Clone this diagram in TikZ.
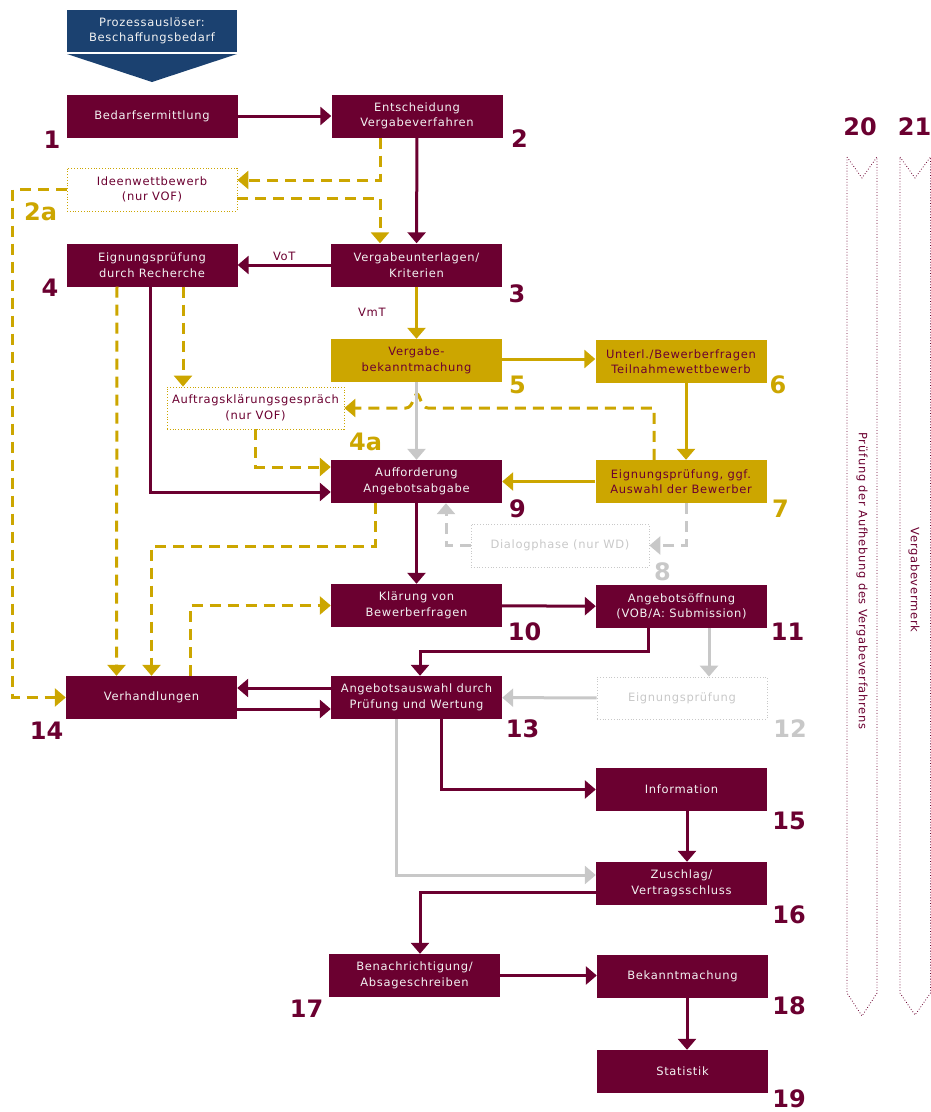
\documentclass[tikz,border=0pt]{standalone}
\usepackage{fontspec}
\setmainfont{DejaVu Sans}
\newfontfamily\boxfont{DejaVu Sans}[LetterSpace=6]
\usetikzlibrary{arrows.meta}

\definecolor{weinrot}{HTML}{6B0030}
\definecolor{ocker}{HTML}{CCA600}
\definecolor{hellgrau}{HTML}{C8C8C8}
\definecolor{nachtblau}{HTML}{1B4170}
\definecolor{textweiss}{HTML}{F2F2F2}

\tikzset{
  schritt/.style={fill=weinrot, text=textweiss, minimum width=171pt, minimum height=43pt,
    inner sep=0pt, align=center, font=\boxfont\fontsize{11.5}{15.5}\selectfont},
  teilnahme/.style={schritt, fill=ocker, text=weinrot},
  option/.style={schritt, fill=none, draw=ocker, dotted, line width=0.8pt, text=weinrot},
  optgrau/.style={option, draw=hellgrau, text=hellgrau},
  nummer/.style={font=\bfseries\fontsize{24}{24}\selectfont, text=weinrot, inner sep=0pt},
  goldnummer/.style={nummer, text=ocker},
  graunummer/.style={nummer, text=hellgrau},
  kuerzel/.style={font=\boxfont\fontsize{11.5}{14}\selectfont, text=weinrot},
  spitze/.style={-{Triangle[length=11pt,width=18pt]}},
  pfeil/.style={draw=weinrot, line width=3pt, spitze},
  goldpfeil/.style={draw=ocker, line width=3pt, spitze},
  goldstrich/.style={goldpfeil, dash pattern=on 11pt off 7pt},
  graupfeil/.style={draw=hellgrau, line width=3pt, spitze},
  graustrich/.style={graupfeil, dash pattern=on 11pt off 7pt},
  band/.style={draw=weinrot, dotted, line width=0.8pt}
}

\begin{document}
\begin{tikzpicture}[x=1pt, y=-1pt]
    \useasboundingbox (0,0) rectangle (931,1112);

    % Prozessausloeser
    \node[schritt, fill=nachtblau, minimum width=170pt, minimum height=42pt] (ausloeser) at (152,31) {Prozessauslöser:\\Beschaffungsbedarf};
    \fill[nachtblau] (67,54) -- (237,54) -- (152,82) -- cycle;

    % Schritte
    \node[schritt] (b1) at (152,116) {Bedarfsermittlung};
    \node[schritt] (b2) at (417,116) {Entscheidung\\Vergabeverfahren};
    \node[option, minimum width=170pt] (b2a) at (152,189.5) {Ideenwettbewerb\\(nur VOF)};
    \node[schritt] (b3) at (416.5,265) {Vergabeunterlagen/\\Kriterien};
    \node[schritt] (b4) at (152,265) {Eignungsprüfung\\durch Recherche};
    \node[teilnahme] (b5) at (416.5,360.5) {Vergabe-\\bekanntmachung};
    \node[teilnahme] (b6) at (681,361.5) {Unterl./Bewerberfragen\\Teilnahmewettbewerb};
    \node[option, minimum width=177pt, minimum height=42pt] (b4a) at (255.5,408) {Auftragsklärungsgespräch\\(nur VOF)};
    \node[teilnahme] (b7) at (681,481.5) {Eignungsprüfung, ggf.\\Auswahl der Bewerber};
    \node[schritt] (b9) at (416.5,481.5) {Aufforderung\\Angebotsabgabe};
    \node[optgrau, minimum width=178pt] (b8) at (560,545.5) {Dialogphase (nur WD)};
    \node[schritt] (b10) at (416.5,605.5) {Klärung von\\Bewerberfragen};
    \node[schritt] (b11) at (681.5,606.5) {Angebotsöffnung\\(VOB/A: Submission)};
    \node[optgrau, minimum width=170pt, minimum height=42pt] (b12) at (682,698) {Eignungsprüfung};
    \node[schritt] (b13) at (416.5,697.5) {Angebotsauswahl durch\\Prüfung und Wertung};
    \node[schritt] (b14) at (151.5,697.5) {Verhandlungen};
    \node[schritt] (b15) at (681.5,789.5) {Information};
    \node[schritt] (b16) at (681.5,883.5) {Zuschlag/\\Vertragsschluss};
    \node[schritt] (b17) at (414.5,975.5) {Benachrichtigung/\\Absageschreiben};
    \node[schritt] (b18) at (682.5,976.5) {Bekanntmachung};
    \node[schritt] (b19) at (682.5,1071.5) {Statistik};

    % Nummern
    \node[nummer] (n1) at (52,140) {1};
    \node[nummer] (n2) at (519.5,139) {2};
    \node[goldnummer] (n2a) at (40.5,212) {2a};
    \node[nummer] (n3) at (517,294) {3};
    \node[nummer] (n4) at (50,288) {4};
    \node[goldnummer] (n4a) at (365.5,442) {4a};
    \node[goldnummer] (n5) at (517.5,385) {5};
    \node[goldnummer] (n6) at (778,385) {6};
    \node[goldnummer] (n7) at (780.5,509) {7};
    \node[graunummer] (n8) at (662.5,571.5) {8};
    \node[nummer] (n9) at (517.5,509) {9};
    \node[nummer] (n10) at (524.5,632) {10};
    \node[nummer] (n11) at (787.5,632) {11};
    \node[graunummer] (n12) at (790,729) {12};
    \node[nummer] (n13) at (522.5,729) {13};
    \node[nummer] (n14) at (46.5,731) {14};
    \node[nummer] (n15) at (789,821) {15};
    \node[nummer] (n16) at (789,915) {16};
    \node[nummer] (n17) at (306.5,1009) {17};
    \node[nummer] (n18) at (789,1006) {18};
    \node[nummer] (n19) at (789,1099) {19};
    \node[nummer] (n20) at (860,127) {20};
    \node[nummer] (n21) at (914.5,127) {21};

    % Begleitende Pfeile rechts
    \draw[band] (847,157) -- (862,178) -- (877,157) -- (877,993) -- (862,1016) -- (847,993) -- cycle;
    \draw[band] (900,157) -- (915,178) -- (930.5,157) -- (930.5,993) -- (915,1015) -- (900,993) -- cycle;
    \node[kuerzel, rotate=-90] (t20) at (862,581) {Prüfung der Aufhebung des Vergabeverfahrens};
    \node[kuerzel, rotate=-90] (t21) at (914,580) {Vergabevermerk};

    % Hauptfluss
    \draw[pfeil] (b1) -- (b2);
    \draw[pfeil] (b2) -- (b3);
    \draw[pfeil] (b3) -- node[kuerzel, above]{VoT} (b4);
    \draw[pfeil] ([xshift=-2pt]b4.south) |- ([yshift=-10.5pt]b9.west);
    \draw[pfeil] (b9) -- (b10);
    \draw[pfeil] (b10) -- (b11);
    \draw[pfeil] ([xshift=-33.5pt]b11.south) -- ++(0,23) -| ([xshift=3.5pt]b13.north);
    \draw[pfeil] ([yshift=9.5pt]b13.west) -- ([yshift=9.5pt]b14.east);
    \draw[pfeil] ([yshift=-11.5pt]b14.east) -- ([yshift=-11.5pt]b13.west);
    \draw[pfeil] ([xshift=24.5pt]b13.south) |- (b15.west);
    \draw[pfeil] ([xshift=5.5pt]b15.south) -- ([xshift=5.5pt]b16.north);
    \draw[pfeil] ([yshift=-8.5pt]b16.west) -| ([xshift=5.5pt]b17.north);
    \draw[pfeil] (b17.east) -- (b17.east -| b18.west);
    \draw[pfeil] ([xshift=4.5pt]b18.south) -- ([xshift=4.5pt]b19.north);

    % Teilnahmewettbewerb
    \draw[goldpfeil] (b3) -- node[kuerzel, left=26pt]{VmT} (b5);
    \draw[goldpfeil] (b5.east |- 0,359) -- (b6.west |- 0,359);
    \draw[goldpfeil] ([xshift=5pt]b6.south) -- ([xshift=5pt]b7.north);
    \draw[goldpfeil] (b7) -- (b9);

    % Optionale Wege (gestrichelt)
    \draw[goldstrich] ([xshift=-37pt]b2.south) |- ([yshift=9.5pt]b2a.east);
    \draw[goldstrich] ([yshift=-8.5pt]b2a.east) -| ([xshift=-36.5pt]b3.north);
    \draw[goldstrich] (b2a.west) -- ++(-54,0) |- (b14.west);
    \draw[goldstrich] ([xshift=31pt]b4.south) -- ([xshift=-72.5pt]b4a.north);
    \draw[goldstrich] ([xshift=-27pt]b7.north) |- (428,408) .. controls (421,408) and (420,394) .. (417,394)
        .. controls (414,394) and (413,408) .. (406,408) -- (b4a.east);
    \draw[goldstrich] (b4a.south) |- ([yshift=14.5pt]b9.west);
    \draw[goldstrich] ([xshift=-35pt]b4.south) -- ([xshift=-35pt]b14.north);
    \draw[goldstrich] ([xshift=-41.5pt]b9.south) -- ++(0,43) -| (b14.north);
    \draw[goldstrich] ([xshift=38.5pt]b14.north) |- (b10.west);

    % Graue Wege
    \draw[graupfeil] (b5) -- (b9);
    \draw[graustrich] ([xshift=5pt]b7.south) |- (b8.east);
    \draw[graustrich] (b8.west) -| ([xshift=29.5pt]b9.south);
    \draw[graupfeil] ([xshift=27.5pt]b11.south) -- ([xshift=27pt]b12.north);
    \draw[graupfeil] (b12) -- (b13);
    \draw[graupfeil] ([xshift=-20.5pt]b13.south) |- ([yshift=8.5pt]b16.west);
\end{tikzpicture}
\end{document}
